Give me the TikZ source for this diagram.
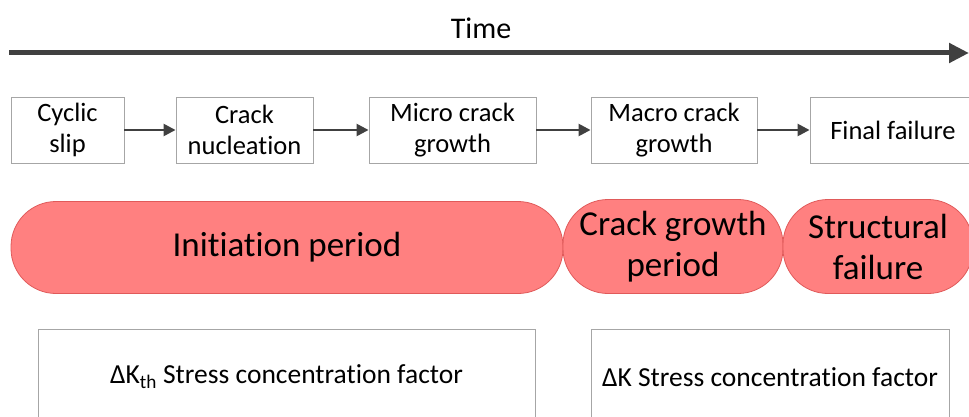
\documentclass[tikz,border=0pt]{standalone}
\usepackage{fontspec}
\setmainfont{Carlito}[RawFeature={-liga;-clig;-rlig;-dlig;-calt}]
\usetikzlibrary{arrows.meta}
\definecolor{boxline}{HTML}{A6A6A6}
\definecolor{arrowgray}{HTML}{404040}
\definecolor{pillfill}{HTML}{FF8080}
\definecolor{pillline}{HTML}{E05A5A}
\tikzset{
  stagebox/.style={draw=boxline, line width=0.9pt, fill=white, minimum height=66pt,
    inner sep=0pt, align=center, font=\fontsize{26.5}{31.5}\selectfont},
  periodpill/.style={draw=pillline, line width=0.8pt, fill=pillfill, rounded corners=45pt,
    minimum height=92pt, inner sep=0pt, align=center, font=\fontsize{35}{41}\selectfont},
  factorbox/.style={draw=boxline, line width=0.9pt, fill=white, minimum height=96pt,
    inner sep=0pt, align=center, font=\fontsize{27.5}{32}\selectfont},
  steparrow/.style={draw=arrowgray, line width=2.5pt, -{Triangle[length=12pt,width=12pt]}},
  timearrow/.style={draw=arrowgray, line width=5pt, -{Triangle[length=20pt,width=19pt]}}
}
\begin{document}
\begin{tikzpicture}[x=1pt, y=-1pt]
\useasboundingbox (0,0) rectangle (969,417);

% time axis
\node[font=\fontsize{30}{35}\selectfont] (time) at (481,28) {Time};
\coordinate (tstart) at (9,53);
\coordinate (tend) at (969,53);
\draw[timearrow] (tstart) -- (tend);

% fatigue stages
\node[stagebox, minimum width=113pt] (slip) at (67.5,130) {Cyclic\\slip};
\node[stagebox, minimum width=137pt] (nucl) at (244.5,130) {Crack\\nucleation};
\node[stagebox, minimum width=167pt] (micro) at (452.5,130) {Micro crack\\growth};
\node[stagebox, minimum width=166pt] (macro) at (674,130) {Macro crack\\growth};
\node[stagebox, minimum width=166pt] (final) at (893,130) {Final failure};
\draw[steparrow] (slip) -- (nucl);
\draw[steparrow] (nucl) -- (micro);
\draw[steparrow] (micro) -- (macro);
\draw[steparrow] (macro) -- (final);

% periods
\node[periodpill, minimum width=552pt] (init) at (287,247.5) {Initiation period};
\node[periodpill, minimum width=220pt, minimum height=94pt] (growth) at (673,246.5) {Crack growth\\period};
\node[periodpill, minimum width=190pt, minimum height=94pt] (struct) at (878,246.5) {Structural\\failure};

% governing parameters
\node[factorbox, minimum width=497pt] (kth) at (286.5,377) {ΔK\textsubscript{th} Stress concentration factor};
\node[factorbox, minimum width=358pt] (dk) at (770,377) {ΔK Stress concentration factor};
\end{tikzpicture}
\end{document}
